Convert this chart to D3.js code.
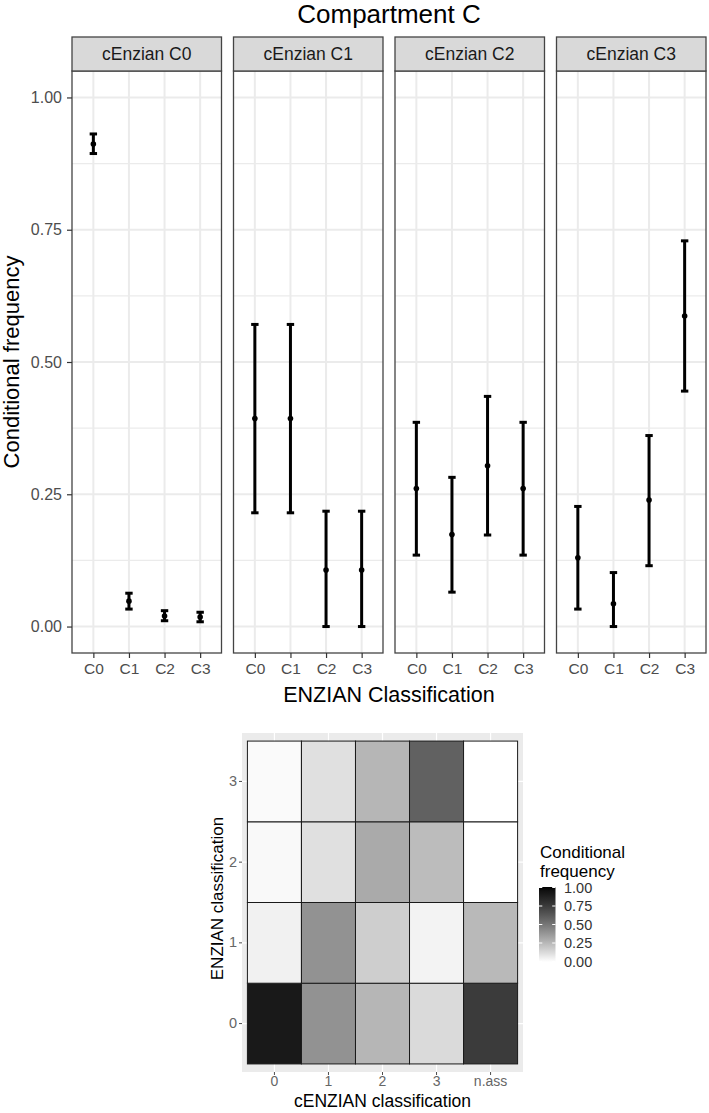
<!DOCTYPE html>
<html>
<head>
<meta charset="utf-8">
<script src="https://cdn.jsdelivr.net/npm/d3@7"></script>
<style>
  html, body { margin: 0; padding: 0; background: #fff; }
  svg { display: block; font-family: "Liberation Sans", Arial, sans-serif; }
</style>
</head>
<body>
<svg id="chart" width="709" height="1113"></svg>
<script>
// ---------------- DATA ----------------
const categories = ["C0", "C1", "C2", "C3"];
const facets = ["cEnzian C0", "cEnzian C1", "cEnzian C2", "cEnzian C3"];
const yTicks = [0, 0.25, 0.5, 0.75, 1.0];

// point estimates per facet (cEnzian class), x = ENZIAN class
const estC0 = [0.912, 0.048, 0.020, 0.018];
const lowC0 = [0.894, 0.033, 0.011, 0.009];
const highC0 = [0.931, 0.063, 0.030, 0.027];

const estC1 = [0.393, 0.393, 0.107, 0.107];
const lowC1 = [0.215, 0.215, 0.000, 0.000];
const highC1 = [0.571, 0.571, 0.218, 0.218];

const estC2 = [0.261, 0.174, 0.304, 0.261];
const lowC2 = [0.135, 0.065, 0.173, 0.135];
const highC2 = [0.386, 0.282, 0.435, 0.386];

const estC3 = [0.130, 0.043, 0.239, 0.587];
const lowC3 = [0.033, 0.000, 0.115, 0.445];
const highC3 = [0.227, 0.102, 0.361, 0.729];

// heatmap
const heatCols = ["0", "1", "2", "3", "n.ass"];
const heatRows = ["0", "1", "2", "3"];
const heatNass = [0.75, 0.25, 0.0, 0.0];
const legendTicks = [0, 0.25, 0.5, 0.75, 1.0];

// ---------------- BUILD ----------------
const svg = d3.select("#chart");
const est = [estC0, estC1, estC2, estC3];
const low = [lowC0, lowC1, lowC2, lowC3];
const high = [highC0, highC1, highC2, highC3];
const FONT = "'Liberation Sans', Arial, sans-serif";

const facetData = facets.map((f, i) => ({
  name: f,
  points: categories.map((c, j) => ({ cat: c, est: est[i][j], lo: low[i][j], hi: high[i][j] }))
}));

// Title
svg.append("text").attr("x", 389).attr("y", 22.5).attr("text-anchor", "middle")
  .attr("font-size", 26).attr("fill", "#000").text("Compartment C");

const stripTop = 37, panelTop = 71, panelBottom = 653;
const fx = d3.scaleBand().domain(facets).range([72, 706]).paddingInner(0.0743);
const y = d3.scaleLinear().domain([-0.05, 1.05]).range([panelBottom, panelTop]);
const minorTicks = [0.125, 0.375, 0.625, 0.875];

facetData.forEach((fd, i) => {
  const x0 = fx(fd.name), w = fx.bandwidth();
  const g = svg.append("g");
  const x = d3.scalePoint().domain(categories).range([x0, x0 + w]).padding(0.6);

  g.append("rect").attr("x", x0).attr("y", panelTop).attr("width", w).attr("height", panelBottom - panelTop)
    .attr("fill", "#fff");
  g.selectAll(".minor").data(minorTicks).join("line")
    .attr("x1", x0).attr("x2", x0 + w).attr("y1", d => y(d)).attr("y2", d => y(d))
    .attr("stroke", "#EBEBEB").attr("stroke-width", 1.2);
  g.selectAll(".major").data(yTicks).join("line")
    .attr("x1", x0).attr("x2", x0 + w).attr("y1", d => y(d)).attr("y2", d => y(d))
    .attr("stroke", "#EBEBEB").attr("stroke-width", 2);
  g.selectAll(".vmajor").data(categories).join("line")
    .attr("x1", d => x(d)).attr("x2", d => x(d)).attr("y1", panelTop).attr("y2", panelBottom)
    .attr("stroke", "#EBEBEB").attr("stroke-width", 2);

  const capW = 7.4;
  const eg = g.append("g");
  eg.selectAll(".eb").data(fd.points).join("line")
    .attr("x1", d => x(d.cat)).attr("x2", d => x(d.cat)).attr("y1", d => y(d.lo)).attr("y2", d => y(d.hi))
    .attr("stroke", "#000").attr("stroke-width", 3);
  eg.selectAll(".capT").data(fd.points).join("line")
    .attr("x1", d => x(d.cat) - capW / 2).attr("x2", d => x(d.cat) + capW / 2)
    .attr("y1", d => y(d.hi)).attr("y2", d => y(d.hi))
    .attr("stroke", "#000").attr("stroke-width", 3);
  eg.selectAll(".capB").data(fd.points).join("line")
    .attr("x1", d => x(d.cat) - capW / 2).attr("x2", d => x(d.cat) + capW / 2)
    .attr("y1", d => y(d.lo)).attr("y2", d => y(d.lo))
    .attr("stroke", "#000").attr("stroke-width", 3);
  eg.selectAll(".pt").data(fd.points).join("circle")
    .attr("cx", d => x(d.cat)).attr("cy", d => y(d.est)).attr("r", 2.8).attr("fill", "#000");

  g.append("rect").attr("x", x0).attr("y", panelTop).attr("width", w).attr("height", panelBottom - panelTop)
    .attr("fill", "none").attr("stroke", "#444").attr("stroke-width", 1.3);

  g.append("rect").attr("x", x0).attr("y", stripTop).attr("width", w).attr("height", panelTop - stripTop)
    .attr("fill", "#D9D9D9").attr("stroke", "#444").attr("stroke-width", 1.3);
  g.append("text").attr("x", x0 + w / 2).attr("y", (stripTop + panelTop) / 2).attr("dy", "0.36em")
    .attr("text-anchor", "middle").attr("font-size", 17.5).attr("fill", "#1A1A1A").text(fd.name);

  const xa = g.append("g").attr("transform", `translate(0,${panelBottom})`)
    .call(d3.axisBottom(x).tickSize(5).tickPadding(5));
  xa.select(".domain").remove();
  xa.selectAll(".tick line").attr("stroke", "#333").attr("stroke-width", 1.2);
  xa.selectAll(".tick text").attr("font-size", 15.5).attr("fill", "#4D4D4D").attr("font-family", FONT);

  if (i === 0) {
    const ya = g.append("g").attr("transform", `translate(${x0},0)`)
      .call(d3.axisLeft(y).tickValues(yTicks).tickFormat(d3.format(".2f")).tickSize(5).tickPadding(5));
    ya.select(".domain").remove();
    ya.selectAll(".tick line").attr("stroke", "#333").attr("stroke-width", 1.2);
    ya.selectAll(".tick text").attr("font-size", 16).attr("fill", "#4D4D4D").attr("font-family", FONT);
  }
});

svg.append("text").attr("x", 389).attr("y", 702).attr("text-anchor", "middle")
  .attr("font-size", 21.5).attr("fill", "#000").text("ENZIAN Classification");
svg.append("text").attr("transform", `translate(19,${(panelTop + panelBottom) / 2}) rotate(-90)`)
  .attr("text-anchor", "middle").attr("font-size", 22).attr("fill", "#000").text("Conditional frequency");

// ---------------- HEATMAP ----------------
const hx0 = 242, hx1 = 523, hy0 = 733, hy1 = 1072;
const hx = d3.scaleBand().domain(heatCols).range([hx0, hx1]).paddingOuter(0.1).paddingInner(0);
const hy = d3.scaleBand().domain(heatRows.slice().reverse()).range([hy0, hy1]).paddingOuter(0.1).paddingInner(0);
const color = d3.scaleLinear().domain([0, 1]).range(["#ffffff", "#000000"]).interpolate(d3.interpolateLab);

const heatData = [];
heatCols.forEach((c, ci) => {
  heatRows.forEach((r, ri) => {
    const v = ci < 4 ? est[ci][ri] : heatNass[ri];
    heatData.push({ col: c, row: r, v });
  });
});

const hg = svg.append("g");
hg.append("rect").attr("x", hx0).attr("y", hy0).attr("width", hx1 - hx0).attr("height", hy1 - hy0).attr("fill", "#EBEBEB");
hg.selectAll(".hv").data(heatCols).join("line")
  .attr("x1", d => hx(d) + hx.bandwidth() / 2).attr("x2", d => hx(d) + hx.bandwidth() / 2)
  .attr("y1", hy0).attr("y2", hy1).attr("stroke", "#fff").attr("stroke-width", 1.2);
hg.selectAll(".hh").data(heatRows).join("line")
  .attr("y1", d => hy(d) + hy.bandwidth() / 2).attr("y2", d => hy(d) + hy.bandwidth() / 2)
  .attr("x1", hx0).attr("x2", hx1).attr("stroke", "#fff").attr("stroke-width", 1.2);
hg.selectAll(".tile").data(heatData).join("rect")
  .attr("x", d => hx(d.col)).attr("y", d => hy(d.row))
  .attr("width", hx.bandwidth()).attr("height", hy.bandwidth())
  .attr("fill", d => color(d.v)).attr("stroke", "#1a1a1a").attr("stroke-width", 1);

const hxa = hg.append("g").attr("transform", `translate(0,${hy1})`)
  .call(d3.axisBottom(hx).tickSize(3).tickPadding(1));
hxa.select(".domain").remove();
hxa.selectAll(".tick line").attr("stroke", "#4d4d4d");
hxa.selectAll(".tick text").attr("font-size", 14).attr("fill", "#666").attr("font-family", FONT);
const hya = hg.append("g").attr("transform", `translate(${hx0},0)`)
  .call(d3.axisLeft(hy).tickSize(3).tickPadding(2));
hya.select(".domain").remove();
hya.selectAll(".tick line").attr("stroke", "#4d4d4d");
hya.selectAll(".tick text").attr("font-size", 14.5).attr("fill", "#666").attr("font-family", FONT);

svg.append("text").attr("x", (hx0 + hx1) / 2).attr("y", 1107).attr("text-anchor", "middle")
  .attr("font-size", 17.5).attr("fill", "#000").text("cENZIAN classification");
svg.append("text").attr("transform", `translate(223,${(hy0 + hy1) / 2 - 4}) rotate(-90)`)
  .attr("text-anchor", "middle").attr("font-size", 17).attr("fill", "#000").text("ENZIAN classification");

// legend
const lg = svg.append("g");
lg.append("text").attr("x", 540).attr("y", 858).attr("font-size", 17).attr("fill", "#000").text("Conditional");
lg.append("text").attr("x", 540).attr("y", 876.5).attr("font-size", 17).attr("fill", "#000").text("frequency");
const barX = 539, barW = 16.5, barTop = 887, barBot = 962;
const defs = svg.append("defs");
const grad = defs.append("linearGradient").attr("id", "lgGrad").attr("x1", 0).attr("y1", 1).attr("x2", 0).attr("y2", 0);
d3.range(0, 1.0001, 0.05).forEach(t => {
  grad.append("stop").attr("offset", t).attr("stop-color", color(t));
});
lg.append("rect").attr("x", barX).attr("y", barTop).attr("width", barW).attr("height", barBot - barTop)
  .attr("fill", "url(#lgGrad)");
const ly = d3.scaleLinear().domain([0, 1]).range([barBot - 0.5, barTop + 0.5]);
lg.selectAll(".ltl").data(legendTicks).join("line")
  .attr("x1", barX).attr("x2", barX + 3.3).attr("y1", d => ly(d)).attr("y2", d => ly(d))
  .attr("stroke", "#fff").attr("stroke-width", 1);
lg.selectAll(".ltr").data(legendTicks).join("line")
  .attr("x1", barX + barW - 3.3).attr("x2", barX + barW).attr("y1", d => ly(d)).attr("y2", d => ly(d))
  .attr("stroke", "#fff").attr("stroke-width", 1);
lg.selectAll(".ltxt").data(legendTicks).join("text")
  .attr("x", 564).attr("y", d => ly(d)).attr("dy", "0.35em")
  .attr("font-size", 14.5).attr("fill", "#333").text(d => d3.format(".2f")(d));
</script>
</body>
</html>
